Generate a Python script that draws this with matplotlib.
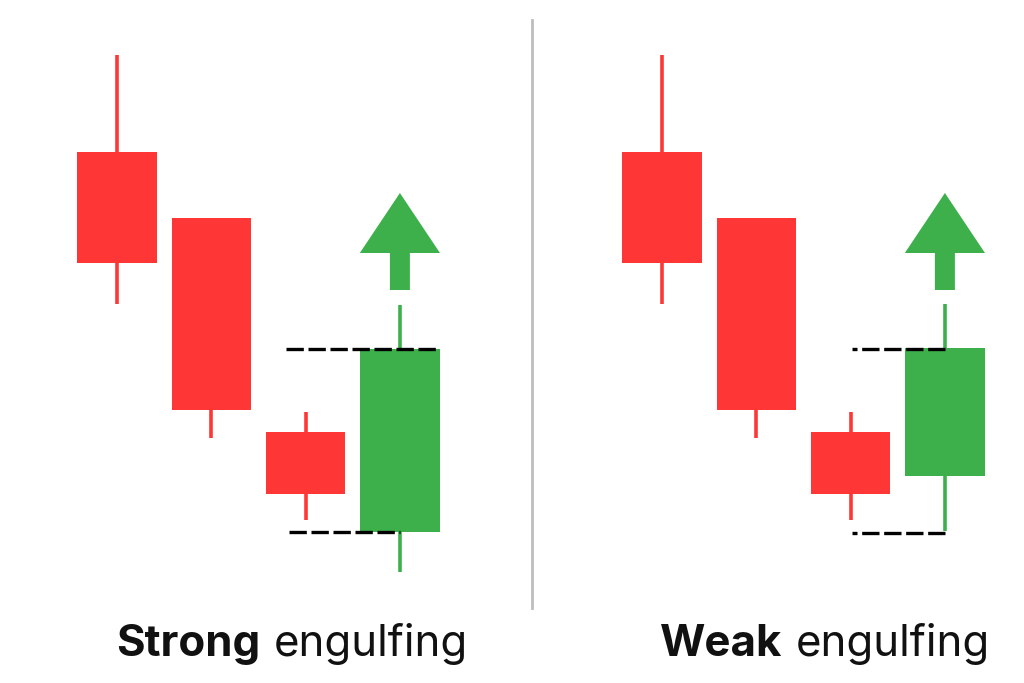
import matplotlib.pyplot as plt
from matplotlib.lines import Line2D

plt.rcParams['font.family'] = ['Inter', 'DejaVu Sans']

RED = '#FE3636'
GREEN = '#3DB04B'

# candles: open, high, low, close (price units)
strong_open = [89.6, 76.4, 33.6, 13.6]
strong_high = [109.0, 76.4, 37.6, 59.0]
strong_low = [59.2, 32.4, 16.0, 5.6]
strong_close = [67.4, 38.0, 21.2, 50.2]

weak_open = [89.6, 76.4, 33.6, 24.8]
weak_high = [109.0, 76.4, 37.6, 59.2]
weak_low = [59.2, 32.4, 16.0, 13.8]
weak_close = [67.4, 38.0, 21.2, 50.4]

# arrow above the last candle
arrow_from = 62.0
arrow_to = 81.4

# dashed reference levels: (level, x start, x end)
strong_guides = [(50.2, 1.79, 3.42), (13.6, 1.82, 3.0)]
weak_guides = [(50.2, 3.0, 2.01), (13.4, 3.0, 2.01)]

labels = [("Strong", "engulfing"), ("Weak", "engulfing")]

W, H = 1024, 683
step = 94.3  # px per candle


def draw_panel(ax, o, h, l, c, guides):
    x = list(range(len(o)))
    for i in x:
        col = GREEN if c[i] > o[i] else RED
        ax.vlines(i, l[i], h[i], color=col, lw=2.6, zorder=1)
        ax.bar(i, abs(c[i] - o[i]), bottom=min(o[i], c[i]), width=0.84,
               color=col, zorder=2)
    ax.arrow(x[-1], arrow_from, 0, arrow_to - arrow_from, width=0.212,
             head_width=0.85, head_length=12, length_includes_head=True,
             color=GREEN, lw=0, zorder=2)
    for lvl, xa, xb in guides:
        ax.plot([xa, xb], [lvl, lvl], color='black', lw=2.4,
                linestyle=(0, (5.2, 1.4)), solid_capstyle='butt',
                dash_capstyle='butt', zorder=3)
    ax.set_xlim(-1.2, 3.8)
    ax.set_ylim(-16.6, 120)
    ax.set_axis_off()


fig = plt.figure(figsize=(10.24, 6.83), dpi=100)
fig.patch.set_facecolor('white')

ax1 = fig.add_axes([(117 - 1.2 * step) / W, 0, 5 * step / W, 1])
ax2 = fig.add_axes([(662 - 1.2 * step) / W, 0, 5 * step / W, 1])
draw_panel(ax1, strong_open, strong_high, strong_low, strong_close, strong_guides)
draw_panel(ax2, weak_open, weak_high, weak_low, weak_close, weak_guides)

# divider
fig.add_artist(Line2D([531.5 / W, 531.5 / W], [1 - 20 / H, 1 - 608 / H],
                      color='#BDBDBD', lw=2.0))

# titles: bold word + regular word, centred under each panel
r = fig.canvas.get_renderer()
size = 31.5
for (bold, reg), cx in zip(labels, [292, 825]):
    yb = 1 - 656 / H
    t1 = fig.text(0, yb, bold, fontsize=size, fontweight='bold', va='baseline',
                  color='#111111')
    t2 = fig.text(0, yb, reg, fontsize=size, va='baseline', color='#111111')
    w1 = t1.get_window_extent(r).width
    w2 = t2.get_window_extent(r).width
    gap = 13
    x0 = cx - (w1 + gap + w2) / 2
    t1.set_x(x0 / W)
    t2.set_x((x0 + w1 + gap) / W)

fig.savefig('out.png', dpi=100, facecolor='white')
